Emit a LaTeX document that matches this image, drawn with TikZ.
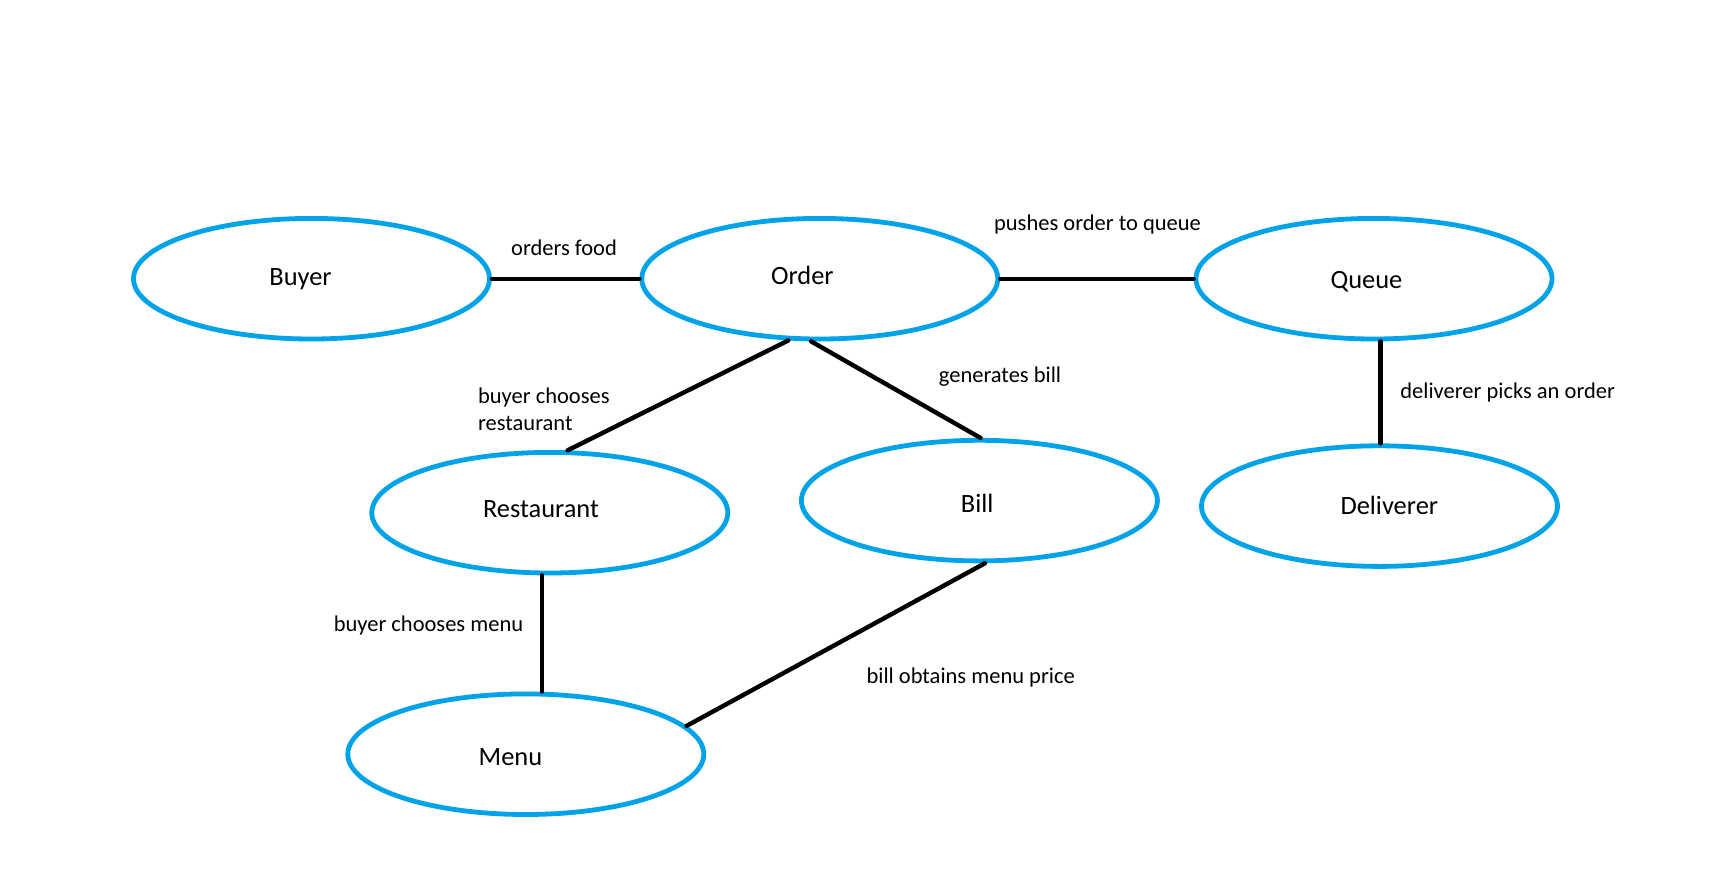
\documentclass[tikz,border=0pt]{standalone}
\usepackage{fontspec}
\setmainfont{Carlito}
\usetikzlibrary{shapes.geometric}
\definecolor{paintblue}{RGB}{0,162,232}

\begin{document}
\begin{tikzpicture}[x=0.5pt,y=-0.5pt,
  entity/.style={ellipse, draw=paintblue, line width=2.4pt, minimum width=178pt, minimum height=60.3pt, inner sep=0pt},
  etext/.style={font=\fontsize{13.2}{15}\selectfont, inner sep=0pt},
  link/.style={line width=2.2pt, line cap=round},
  rel/.style={font=\fontsize{11.25}{13.7}\selectfont, inner sep=0pt}]
\useasboundingbox (0,0) rectangle (1714,868);
\node [entity, label={[etext, xshift=-5.5pt]center:Buyer}] (buyer) at (311.5,278.7) {};
\node [entity, label={[etext, xshift=-8.7pt, yshift=1.6pt]center:Order}] (order) at (819.8,278.7) {};
\node [entity, label={[etext, xshift=-3.8pt, yshift=-1.6pt]center:Queue}] (queue) at (1374,278.7) {};
\node [entity, label={[etext, xshift=-4.4pt, yshift=1.6pt]center:Restaurant}] (restaurant) at (549.8,512.7) {};
\node [entity, label={[etext, xshift=-1.1pt, yshift=-1.6pt]center:Bill}] (bill) at (979.4,500.6) {};
\node [entity, label={[etext, xshift=4.9pt, yshift=0.5pt]center:Deliverer}] (deliverer) at (1379.5,506.1) {};
\node [entity, label={[etext, xshift=-7.7pt, yshift=-1.6pt]center:Menu}] (menu) at (525.8,754.2) {};
\draw [link] (buyer.east) -- (order.west);
\draw [link] (order.east) -- (queue.west);
\draw [link] (order.243) -- (restaurant.74);
\draw [link] (order.262) -- (bill.89);
\draw [link] (queue.-84) -- (queue.-84 |- deliverer.north);
\draw [link] (restaurant.-97) -- (restaurant.-97 |- menu.north);
\draw [link] (bill.-85) -- (menu.10);
\node [rel] (ordersfood) at (564,248) {orders food};
\node [rel] (pushes) at (1097.5,224) {pushes order to queue};
\node [rel, anchor=west, align=left] (chooserest) at (477.7,409.5) {buyer chooses\\restaurant};
\node [rel] (generates) at (1000,377) {generates bill};
\node [rel, anchor=west] (picks) at (1400,392.4) {deliverer picks an order};
\node [rel] (choosemenu) at (428.5,625) {buyer chooses menu};
\node [rel] (obtains) at (970.7,677.7) {bill obtains menu price};
\end{tikzpicture}
\end{document}
